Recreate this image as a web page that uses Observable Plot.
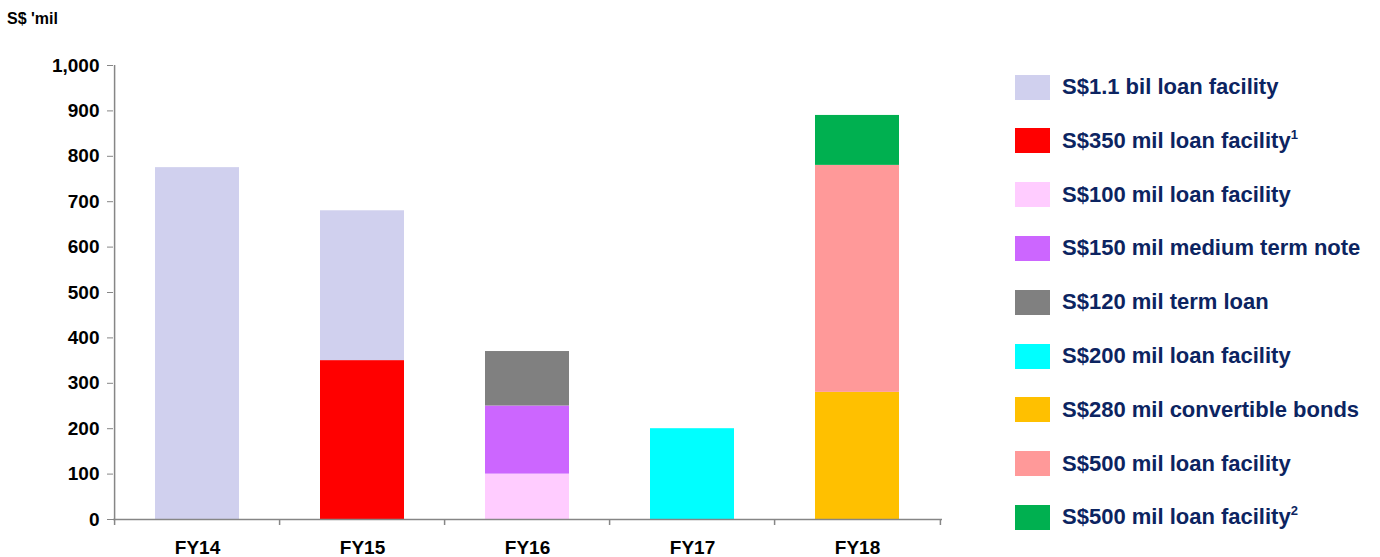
<!DOCTYPE html>
<html>
<head>
<meta charset="utf-8">
<script src="https://cdn.jsdelivr.net/npm/d3@7"></script>
<script src="https://cdn.jsdelivr.net/npm/@observablehq/plot@0.6"></script>
<style>
  html, body { margin: 0; padding: 0; background: #fff; }
  #wrap { position: relative; width: 1380px; height: 557px; overflow: hidden; font-family: "Liberation Sans", Arial, sans-serif; }
  #unit { position: absolute; left: 7px; top: 10px; font-weight: bold; font-size: 16px; color: #000; }
  #legend { position: absolute; left: 1015px; top: 0; }
  .item { position: absolute; left: 0; display: flex; align-items: center; white-space: nowrap; }
  .sw { width: 35px; height: 25px; margin-right: 12px; }
  .lab { font-weight: bold; font-size: 22px; color: #0c2461; }
  .lab sup { font-size: 13px; vertical-align: 9px; line-height: 0; }
</style>
</head>
<body>
<div id="wrap">
  <div id="unit">S$ 'mil</div>
  <div id="legend"></div>
</div>
<script>
// ---- data ----
const years = ["FY14", "FY15", "FY16", "FY17", "FY18"];
const seriesNames = [
  "S$1.1 bil loan facility",
  "S$350 mil loan facility",
  "S$100 mil loan facility",
  "S$150 mil medium term note",
  "S$120 mil term loan",
  "S$200 mil loan facility",
  "S$280 mil convertible bonds",
  "S$500 mil loan facility",
  "S$500 mil loan facility²"
];
const footnotes = ["", "1", "", "", "", "", "", "", "2"];
const seriesColors = ["#d0d0ee", "#ff0000", "#ffccff", "#cc66ff", "#808080", "#00ffff", "#ffc000", "#ff9999", "#00b050"];
// values per series, aligned with years
const s11bil   = [775, 330, 0, 0, 0];
const s350     = [0, 350, 0, 0, 0];
const s100     = [0, 0, 100, 0, 0];
const s150     = [0, 0, 150, 0, 0];
const s120     = [0, 0, 120, 0, 0];
const s200     = [0, 0, 0, 200, 0];
const s280     = [0, 0, 0, 0, 280];
const s500     = [0, 0, 0, 0, 500];
const s500b    = [0, 0, 0, 0, 110];
const seriesValues = [s11bil, s350, s100, s150, s120, s200, s280, s500, s500b];
// stacking order, bottom to top (indices into seriesNames)
const stackOrder = [1, 0, 2, 3, 4, 5, 6, 7, 8];
const yTicks = [0, 100, 200, 300, 400, 500, 600, 700, 800, 900, 1000];

// ---- build rows ----
const rows = [];
for (const si of stackOrder) {
  years.forEach((yr, i) => {
    const v = seriesValues[si][i];
    if (v > 0) rows.push({year: yr, series: seriesNames[si], value: v});
  });
}

const W = 1380, H = 557;
const mL = 113, mR = W - 942, mT = 65, mB = H - 519;
const step = (W - mL - mR) / years.length;

const chart = Plot.plot({
  width: W,
  height: H,
  marginLeft: mL,
  marginRight: mR,
  marginTop: mT,
  marginBottom: mB,
  style: {fontFamily: "'Liberation Sans', Arial, sans-serif", background: "transparent"},
  x: {domain: years, paddingInner: 0.49, paddingOuter: 0.245, label: null},
  y: {domain: [0, 1000], label: null},
  color: {domain: seriesNames, range: seriesColors},
  marks: [
    Plot.barY(rows, Plot.stackY({order: null}, {x: "year", y: "value", fill: "series"})),
    Plot.axisY({ticks: yTicks, tickFormat: d3.format(","), tickSize: 6, tickPadding: 8,
      stroke: "#868686", fill: "#000", fontSize: 19, fontWeight: "bold", label: null}),
    Plot.axisX({tickSize: 0, tickPadding: 21, fill: "#000", fontSize: 19, fontWeight: "bold", label: null}),
    // y axis line
    Plot.ruleX([years[0]], {x: d => d, dx: -step / 2, y1: 0, y2: 1000, stroke: "#868686", strokeWidth: 1.5}),
    // x axis line
    Plot.ruleY([0], {stroke: "#868686", strokeWidth: 1.5}),
    // category boundary ticks
    Plot.ruleX(years, {x: d => d, dx: -step / 2, y1: 0, y2: 0, insetBottom: -6, stroke: "#868686", strokeWidth: 1.5}),
    Plot.ruleX([years[years.length - 1]], {x: d => d, dx: step / 2, y1: 0, y2: 0, insetBottom: -6, stroke: "#868686", strokeWidth: 1.5})
  ]
});
chart.style.position = "absolute";
chart.style.left = "0px";
chart.style.top = "0px";
document.getElementById("wrap").prepend(chart);

// ---- legend ----
const legend = document.getElementById("legend");
const rowYs = 87, rowGap = 53.8;
seriesNames.forEach((name, i) => {
  const item = document.createElement("div");
  item.className = "item";
  item.style.top = (rowYs + i * rowGap - 15) + "px";
  const sw = document.createElement("div");
  sw.className = "sw";
  sw.style.background = seriesColors[i];
  const lab = document.createElement("div");
  lab.className = "lab";
  const base = name.replace("²", "");
  lab.textContent = base;
  if (footnotes[i]) {
    const sup = document.createElement("sup");
    sup.textContent = footnotes[i];
    lab.appendChild(sup);
  }
  item.appendChild(sw);
  item.appendChild(lab);
  item.style.height = "30px";
  legend.appendChild(item);
});
</script>
</body>
</html>
